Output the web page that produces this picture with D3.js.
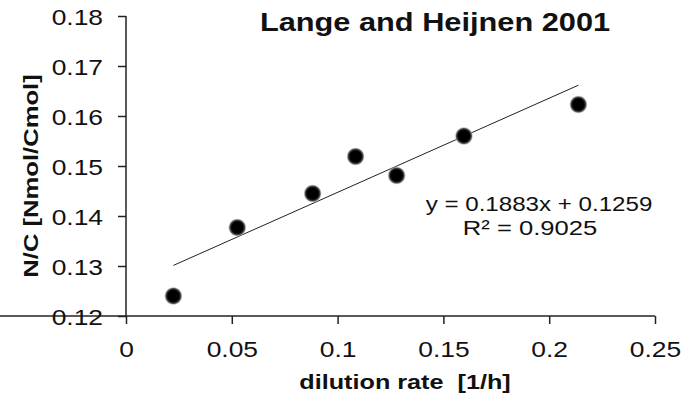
<!DOCTYPE html>
<html>
<head>
<meta charset="utf-8">
<script src="https://cdn.jsdelivr.net/npm/d3@7"></script>
<style>
  html, body { margin: 0; padding: 0; background: #fff; }
  svg { display: block; }
  text { font-family: "Liberation Sans", Arial, sans-serif; fill: #111; white-space: pre; }
</style>
</head>
<body>
<svg id="chart" width="689" height="396"></svg>
<script>
// Dilution rate (1/h) against biomass N/C ratio (Nmol/Cmol)
const dilutionRate = [0.0224, 0.0526, 0.0882, 0.1085, 0.1279, 0.1597, 0.2138];
const ncRatio      = [0.1240, 0.1377, 0.1445, 0.1519, 0.1481, 0.1560, 0.1623];

// Linear trendline as reported
const slope = 0.1883;
const intercept = 0.1259;
const rSquared = 0.9025;

const xTicks = [0, 0.05, 0.1, 0.15, 0.2, 0.25];
const yTicks = [0.12, 0.13, 0.14, 0.15, 0.16, 0.17, 0.18];

const title = "Lange and Heijnen 2001";
const xLabel = "dilution rate  [1/h]";
const yLabel = "N/C [Nmol/Cmol]";

const svg = d3.select("#chart");

const x = d3.scaleLinear().domain([0, 0.25]).range([126, 655]);
const y = d3.scaleLinear().domain([0.12, 0.18]).range([316, 16]);

const STRETCH = 1.2;  // text is set a little wide

// soft-edged round marker
const defs = svg.append("defs");
const grad = defs.append("radialGradient").attr("id", "dot");
grad.append("stop").attr("offset", "0%").attr("stop-color", "#000");
grad.append("stop").attr("offset", "60%").attr("stop-color", "#000");
grad.append("stop").attr("offset", "80%").attr("stop-color", "#555");
grad.append("stop").attr("offset", "100%").attr("stop-color", "#fff").attr("stop-opacity", 0);

// axes
const xAxis = d3.axisBottom(x).tickValues(xTicks).tickSize(8).tickFormat(d3.format("~g"));
const yAxis = d3.axisLeft(y).tickValues(yTicks).tickSize(8).tickFormat(d3.format(".2f"));

const gx = svg.append("g").attr("transform", `translate(0,${y(0.12)})`).call(xAxis);
const gy = svg.append("g").attr("transform", `translate(${x(0)},0)`).call(yAxis);

[gx, gy].forEach(g => {
  g.select(".domain").attr("stroke", "#222").attr("stroke-width", 1.5);
  g.selectAll(".tick line").attr("stroke", "#222").attr("stroke-width", 1.5);
  g.selectAll(".tick text")
    .attr("font-family", "Liberation Sans, Arial, sans-serif")
    .attr("font-size", 22)
    .attr("fill", "#111");
});
gy.select(".domain").attr("d", `M0,${y(0.12)}V${y(0.18)}`);
gx.select(".domain").attr("d", `M0,0H${x(0.25)}`);

gx.selectAll(".tick text")
  .attr("y", 0).attr("dy", 0)
  .attr("transform", `translate(0,41) scale(${STRETCH},1)`);
gy.selectAll(".tick text")
  .attr("x", 0).attr("dy", 0).attr("text-anchor", "end")
  .attr("transform", `translate(-23,8) scale(${STRETCH},1)`);

// trendline over the measured range
const xr = d3.extent(dilutionRate);
svg.append("line")
  .attr("x1", x(xr[0])).attr("y1", y(slope * xr[0] + intercept))
  .attr("x2", x(xr[1])).attr("y2", y(slope * xr[1] + intercept))
  .attr("stroke", "#222").attr("stroke-width", 1);

// points
svg.append("g").selectAll("circle")
  .data(dilutionRate.map((d, i) => [d, ncRatio[i]]))
  .join("circle")
  .attr("cx", d => x(d[0]))
  .attr("cy", d => y(d[1]))
  .attr("r", 9.5)
  .attr("fill", "url(#dot)");

// title
svg.append("text")
  .attr("transform", `translate(435,31) scale(1.23,1)`)
  .attr("text-anchor", "middle")
  .attr("font-size", 25).attr("font-weight", "bold")
  .text(title);

// equation
svg.append("text")
  .attr("transform", `translate(539,211) scale(1.15,1)`)
  .attr("text-anchor", "middle")
  .attr("font-size", 21)
  .text(`y = ${slope}x + ${intercept}`);
svg.append("text")
  .attr("transform", `translate(530,235) scale(1.22,1)`)
  .attr("text-anchor", "middle")
  .attr("font-size", 21)
  .text(`R² = ${rSquared}`);

// axis titles
svg.append("text")
  .attr("transform", `translate(405,389) scale(1.2,1)`)
  .attr("text-anchor", "middle")
  .attr("font-size", 21).attr("font-weight", "bold")
  .text(xLabel);
svg.append("text")
  .attr("transform", `translate(38,176) rotate(-90) scale(1.22,1)`)
  .attr("text-anchor", "middle")
  .attr("font-size", 21).attr("font-weight", "bold")
  .text(yLabel);
</script>
</body>
</html>
